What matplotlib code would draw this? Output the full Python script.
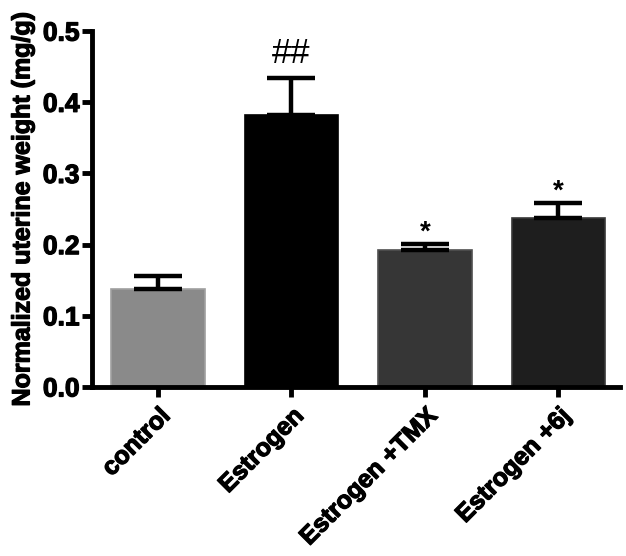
import matplotlib
matplotlib.use("Agg")
import matplotlib.pyplot as plt
import matplotlib.patheffects as pe

categories = ["control", "Estrogen", "Estrogen +TMX", "Estrogen +6j"]
means = [0.137, 0.382, 0.193, 0.237]
errors = [0.019, 0.052, 0.008, 0.021]
marks = ["", "##", "*", "*"]
colors = ["#8a8a8a", "#000000", "#363636", "#1e1e1e"]
edges = ["#a0a0a0", "#000000", "#505050", "#383838"]
yticks = [0.0, 0.1, 0.2, 0.3, 0.4, 0.5]

plt.rcParams['font.family'] = ['Liberation Sans', 'DejaVu Sans']
heavy = [pe.withStroke(linewidth=0.9, foreground='black')]

fig = plt.figure(figsize=(6.26, 5.56), dpi=100)
ax = fig.add_axes([0.147, 0.304, 0.843, 0.640])

x = list(range(len(categories)))
ax.bar(x, means, width=0.70, color=colors, edgecolor=edges, linewidth=1.2, zorder=2)
ax.errorbar(x, means, yerr=[[0]*len(errors), errors], fmt='none', ecolor='black',
            elinewidth=3.2, capsize=17, capthick=3.2, zorder=3)

for xi, m, e, t in zip(x, means, errors, marks):
    if not t:
        continue
    if t == "*":
        ax.text(xi, m + e + 0.016, t, ha='center', va='center', fontsize=20, fontweight='bold')
    else:
        ax.text(xi, m + e + 0.034, t, ha='center', va='center', fontsize=25)

ax.set_xlim(-0.494, 3.46)
ax.set_ylim(0, 0.5)
ax.set_yticks(yticks)
ax.set_yticklabels([f"{v:.1f}" for v in yticks], fontsize=19, fontweight='bold')
ax.set_xticks(x)
ax.set_xticklabels(categories, rotation=45, ha='right', rotation_mode='anchor',
                   fontsize=18, fontweight='bold')
ax.set_ylabel("Normalized uterine weight (mg/g)", fontsize=18, fontweight='bold', labelpad=6)
ax.yaxis.label.set_path_effects(heavy)
for lbl in ax.get_xticklabels() + ax.get_yticklabels():
    lbl.set_path_effects(heavy)

for s in ['top', 'right']:
    ax.spines[s].set_visible(False)
for s in ['left', 'bottom']:
    ax.spines[s].set_linewidth(3.5)
ax.tick_params(axis='both', width=3.5, length=7, direction='out', pad=2)
ax.tick_params(axis='x', pad=5)

fig.savefig("out.png", dpi=100)
